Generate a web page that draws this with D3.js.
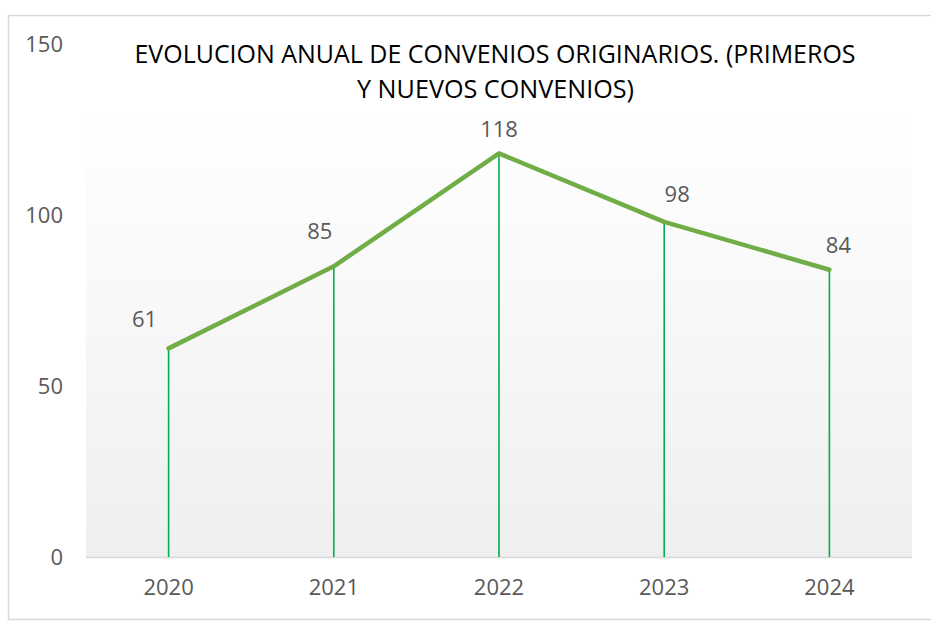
<!DOCTYPE html>
<html><head><meta charset="utf-8">
<script src="https://cdn.jsdelivr.net/npm/d3@7"></script>
<style>
html,body{margin:0;padding:0;background:#fff;}
svg{display:block;}
text{font-family:"Open Sans",sans-serif;}
</style></head>
<body><svg id="c" width="931" height="623"></svg>
<script>
const years = ["2020","2021","2022","2023","2024"];
const values = [61, 85, 118, 98, 84];
const yTicks = [0, 50, 100, 150];
const titleLines = ["EVOLUCION ANUAL DE CONVENIOS ORIGINARIOS. (PRIMEROS", "Y NUEVOS CONVENIOS)"];
const labelNudgeX = [-24, -14, 0, 13, 9];
const labelNudgeY = [-21, -27, -16, -20, -17];

const svg = d3.select("#c");
const defs = svg.append("defs");
const grad = defs.append("linearGradient").attr("id","bg").attr("x1",0).attr("y1",0).attr("x2",0).attr("y2",1);
grad.append("stop").attr("offset","0%").attr("stop-color","#ffffff");
grad.append("stop").attr("offset","100%").attr("stop-color","#efefef");

// chart border
svg.append("rect").attr("x",8.5).attr("y",15.5).attr("width",940).attr("height",604)
  .attr("fill","#fff").attr("stroke","#d9d9d9").attr("stroke-width",1.5);

const x = d3.scaleBand().domain(years).range([86, 912]).padding(0);
const y = d3.scaleLinear().domain([0,150]).range([557, 44]);
const cx = d => x(d) + x.bandwidth()/2;

// plot area
svg.append("rect").attr("x",86).attr("y",111).attr("width",826).attr("height",y(0)-111)
  .attr("fill","url(#bg)");

// baseline
svg.append("line").attr("x1",86).attr("x2",912).attr("y1",y(0)+0.5).attr("y2",y(0)+0.5)
  .attr("stroke","#d9d9d9").attr("stroke-width",1.5);

// y axis
const yAxis = d3.axisLeft(y).tickValues(yTicks).tickSize(0).tickPadding(0);
const gy = svg.append("g").attr("transform","translate(63,0)").call(yAxis);
gy.select(".domain").remove();
gy.selectAll("text").attr("font-size",22).attr("fill","#595959").attr("font-family","Open Sans");

// x axis
const xAxis = d3.axisBottom(x).tickSize(0).tickPadding(0);
const gx = svg.append("g").attr("transform","translate(0,"+(y(0)+22)+")").call(xAxis);
gx.select(".domain").remove();
gx.selectAll("text").attr("font-size",22).attr("fill","#595959").attr("font-family","Open Sans");

// drop lines
svg.append("g").selectAll("line").data(years).join("line")
  .attr("x1", d=>cx(d)).attr("x2", d=>cx(d))
  .attr("y1", (d,i)=>y(values[i])).attr("y2", y(0))
  .attr("stroke","#00b050").attr("stroke-width",1.6);

// line
const line = d3.line().x((d,i)=>cx(years[i])).y(d=>y(d)).curve(d3.curveLinear);
svg.append("path").datum(values).attr("d", line).attr("fill","none")
  .attr("stroke","#70ad47").attr("stroke-width",4.5).attr("stroke-linejoin","round").attr("stroke-linecap","round");

// data labels
svg.append("g").selectAll("text").data(values).join("text")
  .attr("x",(d,i)=>cx(years[i]) + labelNudgeX[i])
  .attr("y",(d,i)=>y(d) + labelNudgeY[i])
  .attr("text-anchor","middle")
  .attr("font-size",22).attr("fill","#595959")
  .text(d=>d);

// title
const tt = svg.append("g");
tt.append("text").attr("x",495).attr("y",63).attr("text-anchor","middle")
  .attr("font-size",26).attr("fill","#000").attr("textLength",721).attr("lengthAdjust","spacingAndGlyphs")
  .text(titleLines[0]);
tt.append("text").attr("x",495.5).attr("y",98).attr("text-anchor","middle")
  .attr("font-size",26).attr("fill","#000").attr("textLength",277).attr("lengthAdjust","spacingAndGlyphs")
  .text(titleLines[1]);
</script></body></html>
